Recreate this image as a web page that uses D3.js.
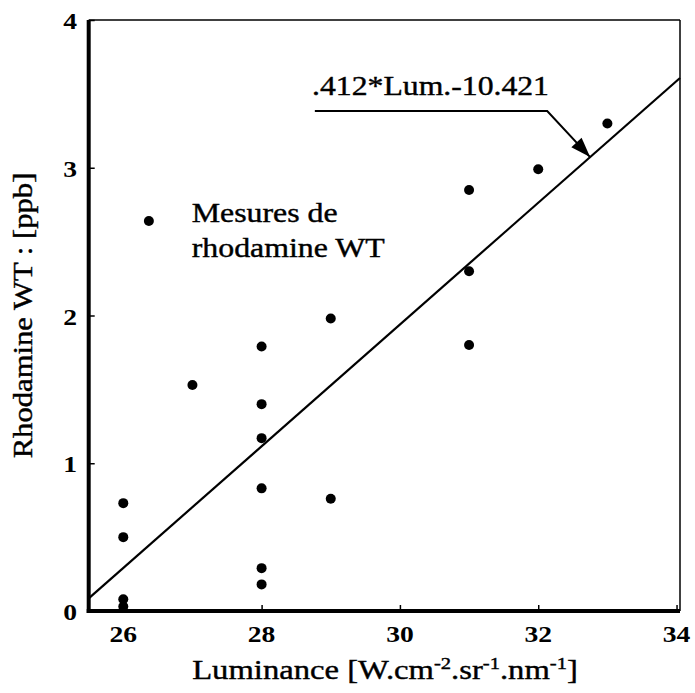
<!DOCTYPE html>
<html><head><meta charset="utf-8">
<script src="https://cdn.jsdelivr.net/npm/d3@7"></script>
<style>body{margin:0;background:#fff}</style>
</head><body><svg id="c" width="695" height="693"></svg>
<script>
const lumX = [26,26,26,26,27,28,28,28,28,28,28,29,29,31,31,31,32,33];
const rhodY = [0.73,0.50,0.08,0.03,1.53,1.79,1.40,1.17,0.83,0.29,0.18,1.98,0.76,2.85,2.30,1.80,2.99,3.30];
const xTicks = [26,28,30,32,34];
const yTicks = [0,1,2,3,4];
const slope = 0.412, intercept = -10.421;
const eqLabel = ".412*Lum.-10.421";
const legendLines = ["Mesures de","rhodamine WT"];
const yTitle = "Rhodamine WT : [ppb]";

const FONT = "Liberation Serif";
const svg = d3.select("#c");
const x = d3.scaleLinear().domain([25.5,34.05]).range([88.7,680]);
const y = d3.scaleLinear().domain([0,4]).range([611,20]);

function txt(sel, heavy){ sel.style("font-family",FONT).attr("fill","#000");
  if(heavy) sel.attr("stroke","#000").attr("stroke-width",0.4);
  return sel; }

// frame
svg.append("line").attr("x1",x(25.5)).attr("x2",x(34.05)).attr("y1",y(4)).attr("y2",y(4)).attr("stroke","#000").attr("stroke-width",1.5);
svg.append("line").attr("x1",x(34.05)).attr("x2",x(34.05)).attr("y1",y(4)).attr("y2",y(0)).attr("stroke","#000").attr("stroke-width",1.5);

// axes
const xAx = svg.append("g").attr("transform",`translate(0,${y(0)})`)
  .call(d3.axisBottom(x).tickValues(xTicks).tickSize(-6).tickFormat(""));
const yAx = svg.append("g").attr("transform",`translate(${x(25.5)},0)`)
  .call(d3.axisLeft(y).tickValues(yTicks).tickSize(-6).tickFormat(""));
[xAx,yAx].forEach(g=>{g.select(".domain").attr("stroke","#000").attr("stroke-width",4);
  g.selectAll(".tick line").attr("stroke","#000").attr("stroke-width",1.5);});
xAx.select(".domain").attr("d",`M${x(25.5)-2},0H${x(34.05)}`);
yAx.select(".domain").attr("d",`M0,${y(0)+2}V${y(4)}`);

// tick labels
txt(svg.selectAll(".xl").data(xTicks).enter().append("text"))
  .attr("transform",d=>`translate(${x(d)},642) scale(1.2,1)`).attr("text-anchor","middle")
  .attr("font-weight","bold").attr("font-size",23).text(d=>d);
txt(svg.selectAll(".yl").data(yTicks).enter().append("text"))
  .attr("transform",d=>`translate(77,${y(d)+9}) scale(1.2,1)`).attr("text-anchor","end")
  .attr("font-weight","bold").attr("font-size",23).text(d=>d);

// axis titles
const xt = txt(svg.append("text"),true).attr("transform",`translate(385,679) scale(1.21,1)`).attr("text-anchor","middle").attr("font-size",27);
xt.append("tspan").text("Luminance [W.cm");
xt.append("tspan").attr("font-size",17).attr("dy",-10).text("-2");
xt.append("tspan").attr("dy",10).text(".sr");
xt.append("tspan").attr("font-size",17).attr("dy",-10).text("-1");
xt.append("tspan").attr("dy",10).text(".nm");
xt.append("tspan").attr("font-size",17).attr("dy",-10).text("-1");
xt.append("tspan").attr("dy",10).text("]");
txt(svg.append("text"),true).attr("transform",`translate(32,${(y(0)+y(4))/2}) rotate(-90) scale(1.136,1)`)
  .attr("text-anchor","middle").attr("font-size",27).text(yTitle);

// regression line
svg.append("line").attr("x1",x(25.5)).attr("y1",y(slope*25.5+intercept))
  .attr("x2",x(34.05)).attr("y2",y(slope*34.05+intercept)).attr("stroke","#000").attr("stroke-width",2.2);

// points
svg.selectAll(".pt").data(lumX.map((v,i)=>[v,rhodY[i]])).enter().append("circle")
  .attr("cx",d=>x(d[0])).attr("cy",d=>y(d[1])).attr("r",5).attr("fill","#000");

// legend
svg.append("circle").attr("cx",x(26.37)).attr("cy",y(2.64)).attr("r",5).attr("fill","#000");
txt(svg.selectAll(".lg").data(legendLines).enter().append("text"),true)
  .attr("transform",(d,i)=>`translate(${x(26.99)},${222+i*35}) scale(1.18,1)`).attr("font-size",27).text(d=>d);

// annotation
const tipX = 32.75, tipY = slope*tipX+intercept;
txt(svg.append("text"),true).attr("transform",`translate(${x(28.73)},${y(3.49)}) scale(1.175,1)`).attr("font-size",27).text(eqLabel);
const p1=[x(28.77),y(3.384)], p2=[x(32.13),y(3.384)], p3=[x(tipX),y(tipY)];
svg.append("path").attr("d",`M${p1}L${p2}L${p3}`).attr("fill","none").attr("stroke","#000").attr("stroke-width",2);
const ang = Math.atan2(p3[1]-p2[1],p3[0]-p2[0]);
const L=20,W=7;
const bx=p3[0]-L*Math.cos(ang), by=p3[1]-L*Math.sin(ang);
svg.append("path").attr("d",`M${p3}L${bx+W*Math.sin(ang)},${by-W*Math.cos(ang)}L${bx-W*Math.sin(ang)},${by+W*Math.cos(ang)}Z`).attr("fill","#000");
</script></body></html>
